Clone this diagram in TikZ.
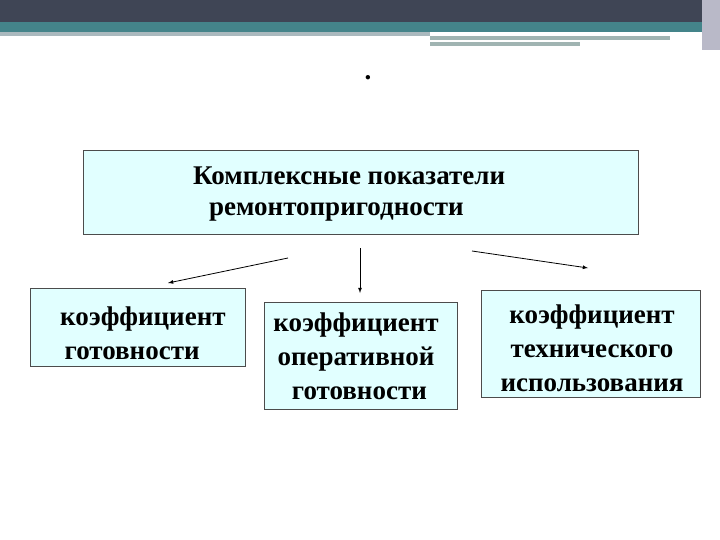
\documentclass[tikz,border=0pt]{standalone}
\usepackage{fontspec}
\setmainfont{Liberation Serif}
\begin{document}
\begin{tikzpicture}[x=1pt,y=-1pt,
  bx/.style={draw=black!70,fill={rgb,255:red,225;green,255;blue,255},line width=0.8pt},
  tx/.style={font=\bfseries\fontsize{27}{34}\selectfont,align=center,inner sep=0pt},
  ar/.style={-latex,line width=0.8pt}]
\useasboundingbox (0,0) rectangle (720,540);
\fill[white] (0,0) rectangle (720,540);
\fill[fill={rgb,255:red,63;green,69;blue,85}] (0,0) rectangle (720,22);
\fill[fill={rgb,255:red,68;green,132;blue,138}] (0,22) rectangle (720,32);
\fill[fill={rgb,255:red,170;green,185;blue,190}] (0,32) rectangle (430,36);
\fill[fill={rgb,255:red,160;green,180;blue,178}] (430,36) rectangle (670,40);
\fill[fill={rgb,255:red,160;green,180;blue,178}] (430,42) rectangle (580,46);
\fill[fill={rgb,255:red,185;green,185;blue,200}] (702,0) rectangle (720,50);
\node[tx] (dot) at (368,78) {.};
\draw[bx] (83,150) rectangle (638,234);
\node[tx,anchor=west] (t1) at (193,176) {Комплексные показатели};
\node[tx,anchor=west] (t2) at (209,212) {ремонтопригодности};
\draw[bx] (30,288) rectangle (245,366);
\node[tx,align=left,anchor=west] (b1) at (60,333) {коэффициент\\\,готовности};
\draw[bx] (264,302) rectangle (457,409);
\node[tx] (b2) at (356,356) {коэффициент\\оперативной\\\ готовности};
\draw[bx] (481,290) rectangle (700,397);
\node[tx] (b3) at (592,348) {коэффициент\\технического\\использования};
\coordinate (a1s) at (288,258); \coordinate (a1e) at (168,283);
\coordinate (a2s) at (360,248); \coordinate (a2e) at (360,293);
\coordinate (a3s) at (472,251); \coordinate (a3e) at (588,268);
\draw[ar] (a1s) -- (a1e);
\draw[ar] (a2s) -- (a2e);
\draw[ar] (a3s) -- (a3e);
\end{tikzpicture}
\end{document}
